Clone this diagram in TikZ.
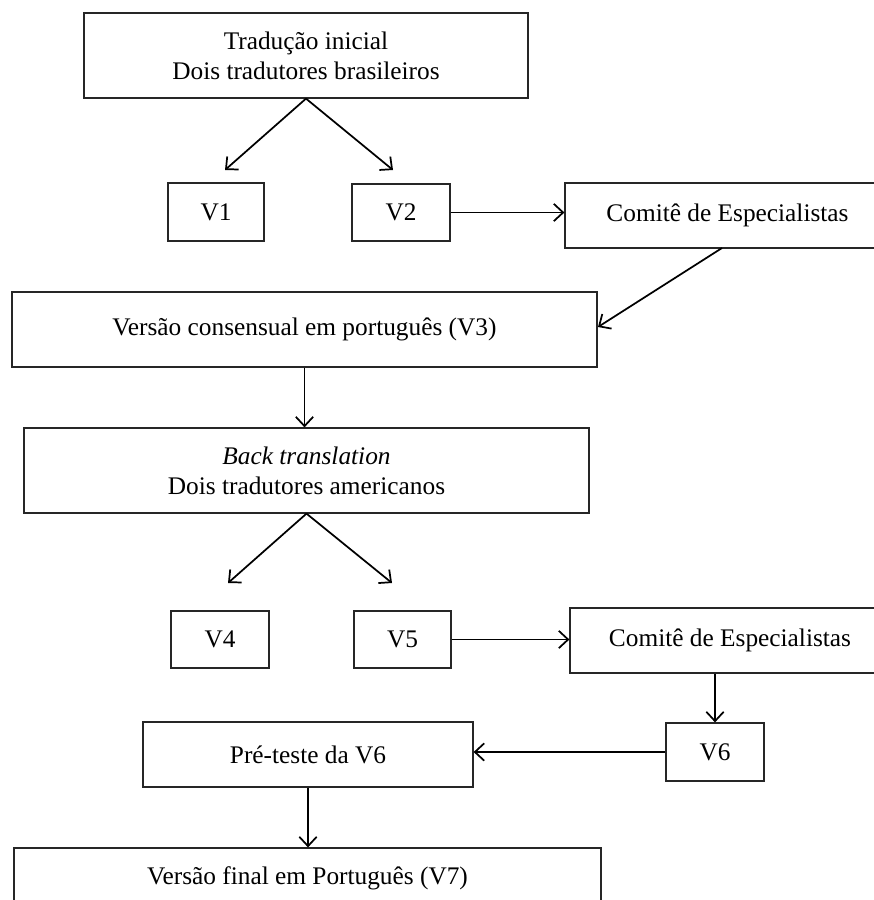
\documentclass[tikz,border=0pt]{standalone}
\usepackage{fontspec}
\setmainfont{Liberation Serif}
\usetikzlibrary{arrows.meta}
\begin{document}
\begin{tikzpicture}[x=0.75pt,y=-0.75pt,
  box/.style={draw=black!85, line width=0.9pt, inner sep=0pt, align=center,
    font=\fontsize{19}{22.5}\selectfont},
  conn/.style={line width=1.3pt, -{Straight Barb[length=7pt,width=13pt,line width=1.3pt]}}]
\useasboundingbox (0,0) rectangle (874,900);
% boxes
\node[box, minimum width=333pt, minimum height=63.75pt] (b1) at (306,55.5) {Tradução inicial\\Dois tradutores brasileiros};
\node[box, minimum width=72pt, minimum height=43.5pt] (v1) at (216,212) {V1};
\node[box, minimum width=73.5pt, minimum height=42.75pt] (v2) at (401,212.5) {V2};
\node[box, minimum width=243.75pt, minimum height=48.75pt] (c1) at (727.5,215.5) {Comitê de Especialistas};
\node[box, minimum width=438.75pt, minimum height=56.25pt] (v3) at (304.5,329.5) {Versão consensual em português (V3)};
\node[box, minimum width=423.75pt, minimum height=63.75pt] (bt) at (306.5,470.5) {\textit{Back translation}\\Dois tradutores americanos};
\node[box, minimum width=73.5pt, minimum height=42.75pt] (v4) at (220,639.5) {V4};
\node[box, minimum width=72.75pt, minimum height=42.75pt] (v5) at (402.5,639.5) {V5};
\node[box, minimum width=240pt, minimum height=48.75pt] (c2) at (730,640.5) {Comitê de Especialistas};
\node[box, minimum width=73.5pt, minimum height=43.5pt] (v6) at (715,752) {V6};
\node[box, minimum width=247.5pt, minimum height=48.75pt] (pt) at (308,754.5) {Pré-teste da V6};
\node[box, minimum width=440.25pt, minimum height=45pt] (v7) at (307.5,878) {Versão final em Português (V7)};
% free ends
\coordinate (t1) at (225,170);
\coordinate (t2) at (393,170);
\coordinate (t4) at (228,583);
\coordinate (t5) at (392,583);
\coordinate (c1s) at (722,248);
\coordinate (v3e) at (598,327);
% connectors
\draw[conn] (b1.south) -- (t1);
\draw[conn] (b1.south) -- (t2);
\draw[conn] (v2.east) -- (v2.east -| c1.west);
\draw[conn] (c1s) -- (v3e);
\draw[conn] (v3.south) -- (v3.south |- bt.north);
\draw[conn] (bt.south) -- (t4);
\draw[conn] (bt.south) -- (t5);
\draw[conn] (v5.east) -- (v5.east -| c2.west);
\draw[conn] (v6.north |- c2.south) -- (v6.north);
\draw[conn] (v6.west) -- (v6.west -| pt.east);
\draw[conn] (pt.south) -- (pt.south |- v7.north);
\end{tikzpicture}
\end{document}
